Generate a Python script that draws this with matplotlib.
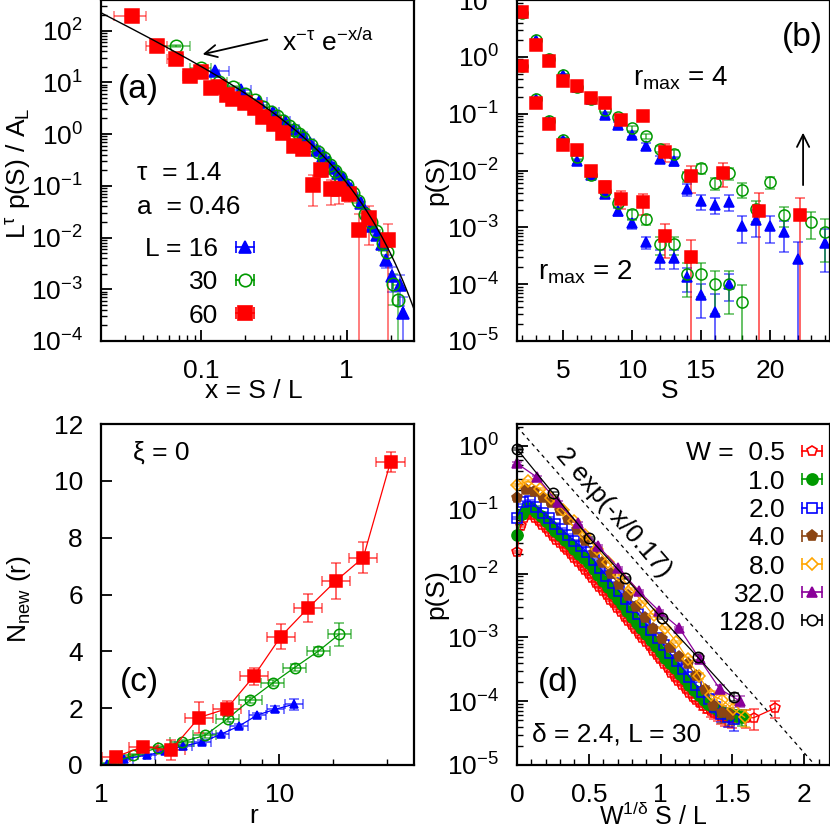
import numpy as np
import matplotlib
matplotlib.use('Agg')
import matplotlib.pyplot as plt
from matplotlib.colors import to_rgba
from matplotlib.ticker import LogLocator, MultipleLocator, FixedLocator, NullFormatter

plt.rcParams['font.family'] = ['Liberation Sans', 'DejaVu Sans']
plt.rcParams['mathtext.fontset'] = 'custom'
plt.rcParams['mathtext.rm'] = 'Liberation Sans'
plt.rcParams['mathtext.it'] = 'Liberation Sans:italic'
plt.rcParams['mathtext.default'] = 'regular'
plt.rcParams['font.size'] = 19

RED = '#ff0000'
GREEN = '#009900'
BLUE = '#0000ff'
BROWN = '#8b4513'
ORANGE = '#ffa500'
PURPLE = '#8a0099'
BLACK = '#000000'

# ---- panel (a): scaled size distributions ----
TAU = 1.4
A_FIT = 0.46
red_a_S = [2, 3, 4, 5, 6, 7, 8, 9, 10, 12, 14, 16, 19, 22, 26, 30, 35, 40, 47, 53, 62, 73, 85, 116]
red_a_y = [190, 51, 28, 13.4, 15.5, 7.7, 8.3, 5.7, 4.7, 3.9, 3.15, 2.17, 1.56, 1.03, 0.60, 0.52,
           0.102, 0.206, 0.085, 0.088, 0.07, 0.0141, 0.024, 0.009]
red_a_err = [0.05] * 16 + [0.6, 0.27, 0.5, 0.5, 0.3, 1.0, 0.7, 1.0]
green_a_S = [2, 3, 4, 5, 6, 7, 8, 9, 10, 11, 12, 13, 14, 15, 17, 19, 21, 23, 25, 27, 30, 33, 36, 40,
             44, 48, 53, 57, 62, 68]
green_a_y = [51, 18.9, 10.3, 8.0, 5.9, 4.5, 3.4, 2.7, 2.2, 1.75, 1.45, 1.2, 1.0, 0.84, 0.62, 0.46,
             0.34, 0.25, 0.19, 0.15, 0.105, 0.072, 0.05, 0.028, 0.02, 0.0135, 0.008, 0.0052,
             0.00126, 0.00061]
green_a_err = [0.05] * 26 + [0.3, 0.4, 0.6, 1.0]
blue_a_S = [2, 3, 4, 5, 6, 7, 8, 9, 10, 11, 12, 13, 14, 15, 16, 17, 18, 20, 22, 24, 26, 28, 30, 33, 37, 39]
blue_a_y = [16.7, 7.2, 4.2, 2.7, 1.8, 1.28, 0.92, 0.68, 0.5, 0.38, 0.29, 0.225, 0.175, 0.14, 0.11,
            0.088, 0.07, 0.046, 0.03, 0.017, 0.011, 0.0075, 0.0036, 0.0018, 0.0012, 0.00035]
blue_a_err = [0.05] * 22 + [0.3, 0.5, 0.6, 1.0]

# ---- panel (b): p(S) for r_max = 4 and r_max = 2 ----
S_b = list(range(2, 25))
blue4 = [6.0, 1.94, 0.93, 0.48, 0.29, 0.18, 0.096, 0.064, 0.0424, 0.027, 0.0158, 0.0144, 0.0047,
         0.0029, 0.0025, 0.0028, 0.00106, 0.00135, 0.00106, 0.00082, 0.000275, np.nan, 0.00054]
blue4_err = [0.03, 0.03, 0.03, 0.04, 0.05, 0.06, 0.08, 0.1, 0.1, 0.12, 0.15, 0.18, 0.25, 0.3, 0.3,
             0.3, 0.5, 0.5, 0.5, 0.55, 1.0, 0, 0.7]
green4 = [6.0, 1.94, 0.93, 0.48, 0.29, 0.18, 0.117, 0.087, 0.0556, 0.0397, 0.024, 0.0196, 0.008,
          0.011, 0.006, 0.009, 0.0046, 0.0021, 0.0062, 0.00166, np.nan, 0.00126, 0.00082]
green4_err = [0.03, 0.03, 0.03, 0.04, 0.05, 0.06, 0.08, 0.1, 0.1, 0.1, 0.12, 0.15, 0.2, 0.2, 0.25,
              0.25, 0.3, 0.4, 0.25, 0.4, 0, 0.5, 0.7]
S_b_red = [2, 3, 4, 5, 6, 7, 8, 9.2, 10.76, 12.4, 14.3, 16.6, 19.2, 22.2]
red4 = [6.1, 1.63, 0.83, 0.378, 0.31, 0.187, 0.153, 0.078, 0.091, 0.0215, 0.0079, 0.0092, 0.00197, 0.00166]
red4_err = [0.03, 0.03, 0.04, 0.05, 0.05, 0.06, 0.08, 0.1, 0.1, 0.35, 0.5, 0.45, 1.0, 1.0]
S_b2 = list(range(2, 19))
blue2 = [0.7, 0.18, 0.073, 0.035, 0.0144, 0.0084, 0.0039, 0.0019, 0.00118, 0.00055, 0.00029,
         0.00029, 0.000132, 0.000064, 0.000033, 0.0001, np.nan]
blue2_err = [0.03, 0.04, 0.05, 0.06, 0.08, 0.1, 0.12, 0.15, 0.2, 0.25, 0.35, 0.35, 0.45, 0.6, 1.0, 0.5, 0]
green2 = [0.7, 0.18, 0.073, 0.035, 0.017, 0.0084, 0.0044, 0.0027, 0.0017, 0.0014, 0.0005, 0.0005,
          0.000149, 0.000149, 0.0001, 0.0001, 0.000049]
green2_err = [0.03, 0.04, 0.05, 0.06, 0.08, 0.1, 0.12, 0.15, 0.2, 0.2, 0.35, 0.35, 0.6, 0.6, 0.7, 0.7, 1.0]
S_b2_red = [2, 3, 4, 5, 6, 7, 8, 9.2, 10.76, 12.4, 14.3]
red2 = [0.70, 0.157, 0.065, 0.028, 0.023, 0.0098, 0.0052, 0.0032, 0.0028, 0.00071, 0.0003]
red2_err = [0.03, 0.04, 0.05, 0.06, 0.08, 0.1, 0.25, 0.35, 0.4, 0.6, 1.0]

# ---- panel (c): N_new(r) ----
red_c_r = [1.21, 1.73, 2.47, 3.55, 5.07, 7.21, 10.2, 14.5, 20.8, 29.6, 42.1]
red_c_n = [0.29, 0.65, 0.52, 1.67, 1.98, 3.13, 4.52, 5.52, 6.48, 7.30, 10.67]
red_c_err = [0.1, 0.12, 0.35, 0.53, 0.27, 0.3, 0.45, 0.5, 0.64, 0.54, 0.36]
green_c_r = [1.17, 1.52, 2.1, 2.83, 3.83, 5.13, 6.86, 9.18, 12.2, 16.6, 21.7]
green_c_n = [0.08, 0.34, 0.61, 0.81, 1.04, 1.63, 2.29, 2.88, 3.43, 4.01, 4.6]
green_c_err = [0.05, 0.06, 0.06, 0.08, 0.08, 0.1, 0.1, 0.1, 0.12, 0.15, 0.4]
blue_c_r = [1.08, 1.35, 1.8, 2.28, 2.9, 3.71, 4.69, 5.95, 7.54, 9.5, 12.1]
blue_c_n = [0.02, 0.22, 0.34, 0.49, 0.67, 0.81, 1.08, 1.37, 1.76, 1.96, 2.14]
blue_c_err = [0.03, 0.04, 0.04, 0.05, 0.05, 0.06, 0.06, 0.07, 0.08, 0.1, 0.2]

# ---- panel (d): p(S) vs W^(1/delta) S/L ----
DELTA = 2.4
L_D = 30
W_list = [0.5, 1.0, 2.0, 4.0, 8.0, 32.0, 128.0]
W_labels = ['W =  0.5', '1.0', '2.0', '4.0', '8.0', '32.0', '128.0']
S_d = [list(range(61)) + [64, 66, 72], list(range(48)), list(range(35)), list(range(26)),
       list(range(21)), list(range(12)), list(range(7))]
p_d = [
    [0.022, 0.055, 0.075, 0.085, 0.082, 0.074, 0.066, 0.058, 0.051, 0.045,
     0.039, 0.034, 0.030, 0.026, 0.023, 0.020, 0.0175, 0.0152, 0.0133, 0.0114,
     0.0098, 0.0084, 0.0072, 0.0062, 0.0053, 0.0046, 0.0039, 0.0034, 0.0029, 0.0025,
     0.0021, 0.0018, 0.00155, 0.00133, 0.00114, 0.00098, 0.00084, 0.00072, 0.00062, 0.00053,
     0.00045, 0.00038, 0.00033, 0.00028, 0.00024, 0.00021, 0.00018, 0.000155, 0.000135, 0.000118,
     0.000104, 0.000093, 0.000084, 0.000076, 0.00007, 0.000066, 0.000062, 0.000059, 0.000057, 0.000056,
     0.000055, 0.000055, 0.000055, 0.000078],
    [0.040, 0.085, 0.105, 0.105, 0.093, 0.079, 0.066, 0.056, 0.047, 0.040,
     0.034, 0.0285, 0.024, 0.0205, 0.0173, 0.0146, 0.0118, 0.0095, 0.0077, 0.0062,
     0.0050, 0.0040, 0.0033, 0.0026, 0.0021, 0.0017, 0.00138, 0.00111, 0.0009, 0.00072,
     0.00058, 0.00048, 0.0004, 0.00033, 0.00027, 0.00022, 0.00018, 0.00015, 0.000125, 0.000105,
     0.00009, 0.00008, 0.000072, 0.000066, 0.000062, 0.00006, 0.000058, 0.000056],
    [0.075, 0.13, 0.135, 0.11, 0.09, 0.073, 0.06, 0.049, 0.04, 0.0325,
     0.0265, 0.0215, 0.0163, 0.0123, 0.0093, 0.0070, 0.0053, 0.0040, 0.0030, 0.0023,
     0.00173, 0.0013, 0.00098, 0.00075, 0.00056, 0.00043, 0.00032, 0.00024, 0.00018, 0.00014,
     0.00011, 0.00008, 0.000062, 0.000056, 0.000052],
    [0.15, 0.2, 0.19, 0.155, 0.125, 0.095, 0.068, 0.048, 0.032, 0.021,
     0.0145, 0.0098, 0.0066, 0.0045, 0.003, 0.002, 0.00135, 0.00095, 0.00068, 0.0005,
     0.00038, 0.00025, 0.00015, 0.000085, 0.000065, 0.00006],
    [0.245, 0.28, 0.21, 0.15, 0.1, 0.066, 0.04, 0.0245, 0.0151, 0.0094,
     0.0058, 0.0036, 0.0022, 0.0014, 0.00085, 0.00045, 0.00025, 0.000125, 0.000105, 0.000075, 0.000056],
    [0.53, 0.32, 0.13, 0.061, 0.027, 0.0123, 0.0053, 0.0026, 0.0014, 0.00046, 0.000155, 0.0001],
    [0.89, 0.18, 0.036, 0.0086, 0.002, 0.00049, 0.000117],
]
err_d = [
    [0.04] * 50 + [0.08, 0.1, 0.12, 0.15, 0.18, 0.2, 0.22, 0.25, 0.28, 0.3, 0.3, 0.32, 0.35, 0.3],
    [0.04] * 40 + [0.1, 0.12, 0.15, 0.18, 0.2, 0.22, 0.25, 0.28],
    [0.04] * 28 + [0.1, 0.12, 0.15, 0.2, 0.25, 0.3, 0.35],
    [0.04] * 20 + [0.1, 0.12, 0.15, 0.2, 0.3, 0.3],
    [0.04] * 15 + [0.1, 0.12, 0.15, 0.2, 0.25, 0.3],
    [0.04] * 9 + [0.1, 0.15, 0.2],
    [0.04] * 5 + [0.1, 0.15],
]
colors_d = [RED, GREEN, BLUE, BROWN, ORANGE, PURPLE, BLACK]
markers_d = ['p', 'o', 's', 'p', 'D', '^', 'o']
filled_d = [False, True, False, True, False, True, False]
msize_d = [7, 8, 7.5, 8, 6, 7.5, 7.5]


def light(c, a=0.55):
    return to_rgba(c, a)


def yerr_of(y, frac):
    y = np.asarray(y, float)
    frac = np.asarray(frac, float)
    hi = frac * y
    lo = np.minimum(frac * y, 0.9999 * y)
    return [lo, hi]


def legend_glyph(ax, x, y, hw, color, marker, filled, ms):
    ax.plot([x - hw, x + hw], [y, y], color=color, lw=1.2, transform=ax.transAxes)
    ax.plot([x - hw, x + hw], [y, y], ls='none', marker='|', ms=9, mew=1.2, color=color,
            transform=ax.transAxes)
    ax.plot([x], [y], marker=marker, ms=ms, color=color, mec=color,
            mfc=color if filled else 'white', mew=1.2, ls='none', transform=ax.transAxes)


def style(ax):
    for sp in ax.spines.values():
        sp.set_linewidth(1.6)
    ax.tick_params(which='both', direction='in', top=False, right=False, pad=13, labelsize=19)
    ax.tick_params(which='major', length=8, width=1.3)
    ax.tick_params(which='minor', length=4.5, width=1.0)


fig = plt.figure(figsize=(8.3, 8.32), dpi=100)
W_AX = 313 / 830
H_AX = 341 / 832
ax_a = fig.add_axes([101 / 830, 1 - 341 / 832, W_AX, H_AX])
ax_b = fig.add_axes([517 / 830, 1 - 341 / 832, W_AX, H_AX])
ax_c = fig.add_axes([101 / 830, 1 - 765 / 832, W_AX, H_AX])
ax_d = fig.add_axes([517 / 830, 1 - 765 / 832, W_AX, H_AX])

# ---------------- (a) ----------------
ax = ax_a
xs = np.logspace(np.log10(0.0205), np.log10(2.9), 300)
ax.plot(xs, xs ** -TAU * np.exp(-xs / A_FIT), color='black', lw=1.0, zorder=5)
for S, y, e, L, c, m, mf, ms in [
        (blue_a_S, blue_a_y, blue_a_err, 16, BLUE, '^', True, 8),
        (green_a_S, green_a_y, green_a_err, 30, GREEN, 'o', False, 9),
        (red_a_S, red_a_y, red_a_err, 60, RED, 's', True, 9.5)]:
    x = np.asarray(S) / L
    ax.errorbar(x, y, xerr=0.5 / L, yerr=yerr_of(y, e), fmt=m, ms=ms, color=c, mec=c,
                mfc=c if mf else 'none', mew=1.1, ecolor=light(c), elinewidth=1.3, capsize=3.5)
ax.set_xscale('log')
ax.set_yscale('log')
ax.set_xlim(0.0205, 2.9)
ax.set_ylim(1e-4, 390)
ax.set_xticks([0.1, 1], ['0.1', '1'])
ax.xaxis.set_minor_locator(LogLocator(base=10, subs=np.arange(2, 10), numticks=20))
ax.xaxis.set_minor_formatter(NullFormatter())
ax.yaxis.set_major_locator(LogLocator(base=10, numticks=20))
ax.yaxis.set_minor_locator(LogLocator(base=10, subs=np.arange(2, 10), numticks=20))
ax.yaxis.set_minor_formatter(NullFormatter())
style(ax)
ax.set_ylabel(r'$L^{\tau}$ p(S) / $A_L$')
ax.yaxis.set_label_coords(-0.262, 0.493)
ax.yaxis.label.set_verticalalignment('center')
ax.set_xlabel('x = S / L')
ax.xaxis.set_label_coords(0.489, -0.147)
ax.xaxis.label.set_verticalalignment('center')
ax.text(0.054, 0.739, '(a)', transform=ax.transAxes, fontsize=24, va='center', ha='left')
ax.text(0.115, 0.493, 'τ  = 1.4', transform=ax.transAxes, va='center', ha='left')
ax.text(0.115, 0.393, 'a  = 0.46', transform=ax.transAxes, va='center', ha='left')
for lab, yy, c, m, mf, ms in [('L = 16', 0.276, BLUE, '^', True, 8),
                              ('30', 0.179, GREEN, 'o', False, 9),
                              ('60', 0.0815, RED, 's', True, 9.5)]:
    ax.text(0.374, yy, lab, transform=ax.transAxes, va='center_baseline', ha='right')
    legend_glyph(ax, 0.46, yy, 0.03, c, m, mf, ms)
ax.text(0.578, 0.851, r'$x^{-τ}\ e^{-x/a}$', transform=ax.transAxes, va='baseline', ha='left')
ax.annotate('', xy=(0.316, 0.839), xytext=(0.54, 0.886), xycoords='axes fraction',
            arrowprops=dict(arrowstyle='->', lw=1.3, color='black', mutation_scale=22))

# ---------------- (b) ----------------
ax = ax_b
for S, y, e, c, m, mf, ms in [
        (S_b, blue4, blue4_err, BLUE, '^', True, 7.5),
        (S_b, green4, green4_err, GREEN, 'o', False, 8),
        (S_b_red, red4, red4_err, RED, 's', True, 8.5),
        (S_b2, blue2, blue2_err, BLUE, '^', True, 7.5),
        (S_b2, green2, green2_err, GREEN, 'o', False, 8),
        (S_b2_red, red2, red2_err, RED, 's', True, 8.5)]:
    ax.errorbar(S, y, yerr=yerr_of(y, e), fmt=m, ms=ms, color=c, mec=c,
                mfc=c if mf else 'none', mew=1.1, ecolor=light(c, 0.65), elinewidth=1.3, capsize=3.5)
ax.set_yscale('log')
ax.set_xlim(1.65, 24.35)
ax.set_ylim(1e-5, 10)
ax.set_xticks([5, 10, 15, 20])
ax.xaxis.set_minor_locator(MultipleLocator(1))
ax.yaxis.set_major_locator(LogLocator(base=10, numticks=20))
ax.yaxis.set_minor_locator(LogLocator(base=10, subs=np.arange(2, 10), numticks=20))
ax.yaxis.set_minor_formatter(NullFormatter())
style(ax)
ax.set_ylabel('p(S)')
ax.yaxis.set_label_coords(-0.258, 0.472)
ax.yaxis.label.set_verticalalignment('center')
ax.set_xlabel('S')
ax.xaxis.set_label_coords(0.489, -0.147)
ax.xaxis.label.set_verticalalignment('center')
ax.text(0.847, 0.891, '(b)', transform=ax.transAxes, fontsize=24, va='center', ha='left')
ax.text(0.371, 0.748, r'$r_{max}$ = 4', transform=ax.transAxes, va='baseline', ha='left', fontsize=20)
ax.text(0.068, 0.181, r'$r_{max}$ = 2', transform=ax.transAxes, va='baseline', ha='left', fontsize=20)
ax.annotate('', xy=(0.914, 0.619), xytext=(0.914, 0.449), xycoords='axes fraction',
            arrowprops=dict(arrowstyle='->', lw=1.3, color='black', mutation_scale=22))

# ---------------- (c) ----------------
ax = ax_c
for r, n, e, f, c, m, mf, ms in [
        (blue_c_r, blue_c_n, blue_c_err, 1.12, BLUE, '^', True, 6),
        (green_c_r, green_c_n, green_c_err, 1.16, GREEN, 'o', False, 7.5),
        (red_c_r, red_c_n, red_c_err, 1.2, RED, 's', True, 8.5)]:
    r = np.asarray(r)
    xe = [r - r / f, r * f - r]
    ax.errorbar(r, n, xerr=xe, yerr=e, fmt=m + '-', ms=ms, color=c, mec=c, lw=0.9,
                mfc=c if mf else 'none', mew=1.1, ecolor=light(c, 0.65), elinewidth=1.3, capsize=3.5)
ax.set_xscale('log')
ax.set_xlim(1, 57)
ax.set_ylim(0, 12)
ax.set_xticks([1, 10], ['1', '10'])
ax.xaxis.set_minor_locator(FixedLocator([2, 4, 6, 8, 20, 40]))
ax.xaxis.set_minor_formatter(NullFormatter())
ax.set_yticks(range(0, 13, 2))
style(ax)
ax.set_ylabel(r'$N_{new}$ (r)')
ax.yaxis.set_label_coords(-0.262, 0.488)
ax.yaxis.label.set_verticalalignment('center')
ax.set_xlabel('r')
ax.xaxis.set_label_coords(0.489, -0.15)
ax.xaxis.label.set_verticalalignment('center')
ax.text(0.102, 0.915, 'ξ = 0', transform=ax.transAxes, va='center', ha='left')
ax.text(0.061, 0.241, '(c)', transform=ax.transAxes, fontsize=24, va='center', ha='left')

# ---------------- (d) ----------------
ax = ax_d
xd = np.linspace(0, 2.18, 200)
ax.plot(xd, 2 * np.exp(-xd / 0.17), color='black', lw=0.9, ls=(0, (3, 3)))
for W, S, p, e, c, m, mf, ms in zip(W_list, S_d, p_d, err_d, colors_d, markers_d, filled_d, msize_d):
    x = W ** (1 / DELTA) * np.asarray(S) / L_D
    ax.errorbar(x, p, yerr=yerr_of(p, e), fmt=m + '-', ms=ms, color=c, mec=c, lw=0.9,
                mfc=c if mf else 'none', mew=1.1, ecolor=light(c, 0.7), elinewidth=1.2, capsize=3.5,
                clip_on=False)
ax.set_yscale('log')
ax.set_xlim(0, 2.18)
ax.set_ylim(1e-5, 2.2)
ax.set_xticks([0, 0.5, 1, 1.5, 2], ['0', '0.5', '1', '1.5', '2'])
ax.xaxis.set_minor_locator(MultipleLocator(0.1))
ax.yaxis.set_major_locator(LogLocator(base=10, numticks=20))
ax.yaxis.set_minor_locator(LogLocator(base=10, subs=np.arange(2, 10), numticks=20))
ax.yaxis.set_minor_formatter(NullFormatter())
style(ax)
ax.set_ylabel('p(S)')
ax.yaxis.set_label_coords(-0.258, 0.5)
ax.yaxis.label.set_verticalalignment('center')
ax.set_xlabel(r'$W^{1/δ}$ S / L', fontsize=18)
ax.xaxis.set_label_coords(0.435, -0.152)
ax.xaxis.label.set_verticalalignment('center')
ax.text(0.067, 0.241, '(d)', transform=ax.transAxes, fontsize=24, va='center', ha='left')
ax.text(0.047, 0.09, 'δ = 2.4, L = 30', transform=ax.transAxes, va='center', ha='left')
ax.text(0.307, 0.74, '2 exp(-x/0.17)', transform=ax.transAxes, va='center', ha='center',
        rotation=-49, rotation_mode='anchor')
rows_d = [0.921, 0.838, 0.755, 0.672, 0.589, 0.507, 0.425]
for lab, yy, c, m, mf, ms in zip(W_labels, rows_d, colors_d, markers_d, filled_d, msize_d):
    ax.text(0.856, yy, lab, transform=ax.transAxes, va='center_baseline', ha='right')
    legend_glyph(ax, 0.942, yy, 0.033, c, m, mf, ms)

fig.savefig('out.png', dpi=100)
